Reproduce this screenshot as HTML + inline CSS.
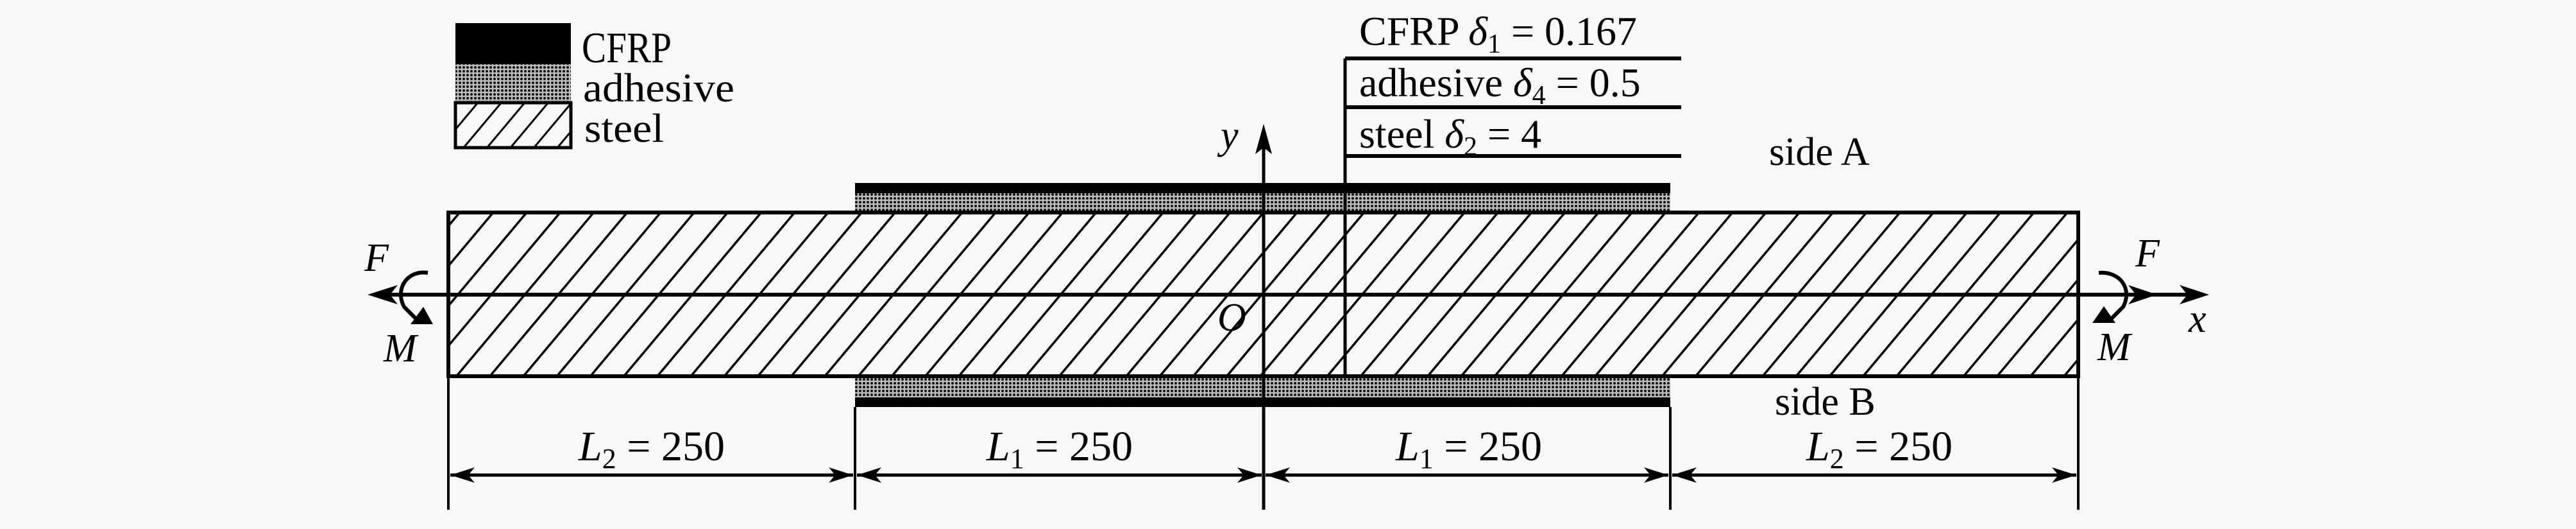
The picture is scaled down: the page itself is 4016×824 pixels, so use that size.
<!DOCTYPE html>
<html><head><meta charset="utf-8"><style>
html,body{margin:0;padding:0;background:#f8f8f8;}
svg{display:block;}
text{font-family:"Liberation Serif",serif;fill:#000;}
.it{font-style:italic;}
</style></head><body>
<svg width="4016" height="824" viewBox="0 0 4016 824" xmlns="http://www.w3.org/2000/svg">
<defs>
<pattern id="hatch" patternUnits="userSpaceOnUse" width="40" height="40" patternTransform="rotate(40)">
<rect width="40" height="40" fill="#f8f8f8"/>
<line x1="0" y1="0" x2="0" y2="40" stroke="#000" stroke-width="7"/>
</pattern>
<pattern id="hatchL" patternUnits="userSpaceOnUse" width="28" height="28" patternTransform="rotate(40)">
<rect width="28" height="28" fill="#f8f8f8"/>
<line x1="0" y1="0" x2="0" y2="28" stroke="#000" stroke-width="6"/>
</pattern>
<pattern id="dots" patternUnits="userSpaceOnUse" width="6" height="6">
<rect width="6" height="6" fill="#bbb"/>
<circle cx="3" cy="3" r="2" fill="#111"/>
</pattern>
</defs>

<!-- legend -->
<rect x="710" y="36" width="180" height="64" fill="#000"/>
<rect x="710" y="100" width="180" height="60" fill="url(#dots)"/>
<rect x="710" y="160" width="180" height="70" fill="url(#hatchL)" stroke="#000" stroke-width="5"/>
<text x="907" y="97" font-size="68" textLength="140" lengthAdjust="spacingAndGlyphs">CFRP</text>
<text x="909" y="158" font-size="64" textLength="236" lengthAdjust="spacingAndGlyphs">adhesive</text>
<text x="911" y="221" font-size="64" textLength="124" lengthAdjust="spacingAndGlyphs">steel</text>

<!-- patches -->
<rect x="1333" y="285" width="1271" height="16" fill="#000"/>
<rect x="1333" y="301" width="1271" height="30" fill="url(#dots)"/>
<rect x="1333" y="586" width="1271" height="33" fill="url(#dots)"/>
<rect x="1333" y="619" width="1271" height="15" fill="#000"/>

<!-- steel -->
<rect x="699" y="331" width="2541" height="255" fill="url(#hatch)" stroke="#000" stroke-width="6"/>

<!-- x axis -->
<line x1="585" y1="459" x2="3425" y2="459" stroke="#000" stroke-width="6"/>
<polygon points="3444,459 3398,444 3410,459 3398,474" fill="#000"/>
<polygon points="573,459 620,444 608,459 620,474" fill="#000"/>
<polygon points="3363,459 3318,444 3330,459 3318,474" fill="#000"/>

<!-- y axis -->
<line x1="1970" y1="215" x2="1970" y2="794" stroke="#000" stroke-width="5"/>
<polygon points="1970,193 1957,240 1970,230 1983,240" fill="#000"/>

<!-- table -->
<line x1="2097" y1="91" x2="2097" y2="586" stroke="#000" stroke-width="5"/>
<line x1="2097" y1="91" x2="2621" y2="91" stroke="#000" stroke-width="6"/>
<line x1="2097" y1="167" x2="2621" y2="167" stroke="#000" stroke-width="6"/>
<line x1="2097" y1="243" x2="2621" y2="243" stroke="#000" stroke-width="6"/>
<text x="2119" y="70" font-size="64">CFRP <tspan class="it">δ</tspan><tspan font-size="42" dy="12">1</tspan><tspan dy="-12"> = 0.167</tspan></text>
<text x="2119" y="150" font-size="64">adhesive <tspan class="it">δ</tspan><tspan font-size="42" dy="12">4</tspan><tspan dy="-12">  = 0.5</tspan></text>
<text x="2119" y="230" font-size="64">steel <tspan class="it">δ</tspan><tspan font-size="42" dy="12">2</tspan><tspan dy="-12"> = 4</tspan></text>

<text x="2758" y="257" font-size="62">side A</text>
<text x="2767" y="646" font-size="62">side B</text>

<!-- labels -->
<text class="it" x="1903" y="231" font-size="62">y</text>
<text class="it" x="1898" y="515" font-size="62">O</text>
<text class="it" x="568" y="422" font-size="62">F</text>
<text class="it" x="598" y="563" font-size="62">M</text>
<text class="it" x="3329" y="415" font-size="62">F</text>
<text class="it" x="3270" y="561" font-size="62">M</text>
<text class="it" x="3412" y="517" font-size="62">x</text>

<!-- moments -->
<path d="M667,425 C635,420 615,450 630,478 L652,500" fill="none" stroke="#000" stroke-width="6"/>
<polygon points="675,505 640,505 660,478" fill="#000"/>
<path d="M3272,425 C3305,422 3325,450 3310,478 L3288,500" fill="none" stroke="#000" stroke-width="6"/>
<polygon points="3262,503 3298,503 3280,477" fill="#000"/>

<!-- extension lines -->
<line x1="699" y1="586" x2="699" y2="794" stroke="#000" stroke-width="4"/>
<line x1="1333" y1="634" x2="1333" y2="794" stroke="#000" stroke-width="4"/>
<line x1="2604" y1="634" x2="2604" y2="794" stroke="#000" stroke-width="4"/>
<line x1="3240" y1="586" x2="3240" y2="794" stroke="#000" stroke-width="4"/>

<!-- dimension lines -->
<g stroke="#000" stroke-width="5">
<line x1="702" y1="740" x2="1330" y2="740"/>
<line x1="1336" y1="740" x2="1967" y2="740"/>
<line x1="1973" y1="740" x2="2601" y2="740"/>
<line x1="2607" y1="740" x2="3237" y2="740"/>
</g>
<g fill="#000">
<polygon points="702,740 740,728 730,740 740,752"/>
<polygon points="1330,740 1292,728 1302,740 1292,752"/>
<polygon points="1336,740 1374,728 1364,740 1374,752"/>
<polygon points="1967,740 1929,728 1939,740 1929,752"/>
<polygon points="1973,740 2011,728 2001,740 2011,752"/>
<polygon points="2601,740 2563,728 2573,740 2563,752"/>
<polygon points="2607,740 2645,728 2635,740 2645,752"/>
<polygon points="3237,740 3199,728 3209,740 3199,752"/>
</g>
<text x="1016" y="717" font-size="66" text-anchor="middle"><tspan class="it">L</tspan><tspan font-size="44" dy="12">2</tspan><tspan dy="-12"> = 250</tspan></text>
<text x="1652" y="717" font-size="66" text-anchor="middle"><tspan class="it">L</tspan><tspan font-size="44" dy="12">1</tspan><tspan dy="-12"> = 250</tspan></text>
<text x="2290" y="717" font-size="66" text-anchor="middle"><tspan class="it">L</tspan><tspan font-size="44" dy="12">1</tspan><tspan dy="-12"> = 250</tspan></text>
<text x="2930" y="717" font-size="66" text-anchor="middle"><tspan class="it">L</tspan><tspan font-size="44" dy="12">2</tspan><tspan dy="-12"> = 250</tspan></text>
</svg>
</body></html>
